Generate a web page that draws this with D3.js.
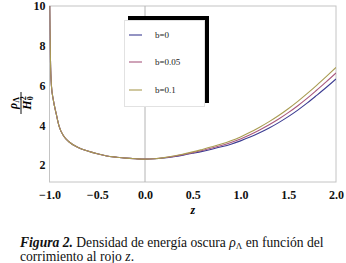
<!DOCTYPE html>
<html>
<head>
<meta charset="utf-8">
<script src="https://cdn.jsdelivr.net/npm/d3@7"></script>
<style>
  body { margin: 0; background: #fff; }
  text { font-family: "Liberation Serif", "DejaVu Serif", serif; }
</style>
</head>
<body>
<script>
// redshift samples
var zVals = [-1.0, -0.995, -0.99, -0.98, -0.96, -0.93, -0.9, -0.85, -0.8, -0.7, -0.6, -0.5, -0.4, -0.3, -0.2, -0.1,
  0.0, 0.1, 0.2, 0.3, 0.4, 0.5, 0.6, 0.7, 0.8, 0.9, 1.0, 1.1, 1.2, 1.3, 1.4, 1.5, 1.6, 1.7, 1.8, 1.9, 2.0];

// rho_Lambda / H0^2 for each b
var rhoB0 = [11.0, 8.8, 7.3, 6.0, 5.27, 4.58, 3.95, 3.44, 3.18, 2.88, 2.70, 2.56, 2.45, 2.39, 2.34, 2.31,
  2.29, 2.307, 2.352, 2.415, 2.495, 2.585, 2.68, 2.79, 2.91, 3.045, 3.21, 3.40, 3.62, 3.86, 4.13, 4.43, 4.76, 5.12, 5.51, 5.91, 6.33];
var rhoB005 = [11.0, 8.8, 7.3, 6.0, 5.27, 4.58, 3.95, 3.44, 3.18, 2.88, 2.70, 2.56, 2.45, 2.39, 2.34, 2.31,
  2.29, 2.31, 2.36, 2.43, 2.52, 2.62, 2.73, 2.85, 2.98, 3.13, 3.31, 3.52, 3.76, 4.02, 4.31, 4.63, 4.98, 5.36, 5.77, 6.19, 6.63];
var rhoB01 = [11.0, 8.8, 7.3, 6.0, 5.27, 4.58, 3.95, 3.44, 3.18, 2.88, 2.70, 2.56, 2.45, 2.39, 2.34, 2.31,
  2.29, 2.313, 2.368, 2.445, 2.545, 2.655, 2.78, 2.91, 3.05, 3.215, 3.41, 3.64, 3.90, 4.18, 4.49, 4.83, 5.20, 5.60, 6.02, 6.46, 6.91];

var seriesNames = ["b=0", "b=0.05", "b=0.1"];
var seriesColors = ["#3c3c92", "#a8587e", "#a99c52"];
var xTicks = [-1.0, -0.5, 0.0, 0.5, 1.0, 1.5, 2.0];
var yTicks = [2, 4, 6, 8, 10];

var W = 346, H = 263;
var plot = {x0: 49.5, x1: 336, y0: 6, y1: 182};

var svg = d3.select("body").append("svg")
    .attr("width", W)
    .attr("height", H);

var x = d3.scaleLinear().domain([-1, 2]).range([plot.x0, plot.x1]);
var y = d3.scaleLinear().domain([1.14, 10]).range([plot.y1, plot.y0]);

svg.append("defs").append("clipPath").attr("id", "plotclip")
  .append("rect")
    .attr("x", plot.x0).attr("y", plot.y0)
    .attr("width", plot.x1 - plot.x0).attr("height", plot.y1 - plot.y0);

// frame
svg.append("rect")
    .attr("x", plot.x0).attr("y", plot.y0)
    .attr("width", plot.x1 - plot.x0).attr("height", plot.y1 - plot.y0)
    .attr("fill", "none")
    .attr("stroke", "#c4c4c4")
    .attr("stroke-width", 1);

// vertical axis at z = 0
svg.append("line")
    .attr("x1", x(0)).attr("x2", x(0))
    .attr("y1", plot.y0).attr("y2", plot.y1)
    .attr("stroke", "#b4b4b4")
    .attr("stroke-width", 1);

// tick labels
var xAxis = d3.axisBottom(x).tickValues(xTicks).tickSize(0).tickPadding(8);
var gx = svg.append("g")
    .attr("transform", "translate(0," + plot.y1 + ")")
    .call(xAxis);
gx.select(".domain").remove();
gx.selectAll("text")
    .attr("font-family", "Liberation Serif")
    .attr("font-size", 12)
    .attr("font-weight", "bold")
    .attr("fill", "#111")
    .text(function (d) { return d3.format(".1f")(d).replace("-", "\u2212").replace("\u2212\u2212", "\u2212"); });

var yAxis = d3.axisLeft(y).tickValues(yTicks).tickSize(0).tickPadding(3);
var gy = svg.append("g")
    .attr("transform", "translate(" + (plot.x0 - 1) + ",0)")
    .call(yAxis);
gy.select(".domain").remove();
gy.selectAll("text")
    .attr("font-family", "Liberation Serif")
    .attr("font-size", 12)
    .attr("font-weight", "bold")
    .attr("fill", "#111");

// curves
var series = [rhoB0, rhoB005, rhoB01];
var line = d3.line()
    .x(function (d, i) { return x(zVals[i]); })
    .y(function (d) { return y(d); })
    .curve(d3.curveMonotoneX);

var gl = svg.append("g").attr("clip-path", "url(#plotclip)");
series.forEach(function (s, k) {
  gl.append("path")
      .attr("d", line(s))
      .attr("fill", "none")
      .attr("stroke", seriesColors[k])
      .attr("stroke-width", 1.1);
});

// legend with shadow
svg.append("rect")
    .attr("x", 128).attr("y", 16)
    .attr("width", 81).attr("height", 87)
    .attr("fill", "#000");
svg.append("rect")
    .attr("x", 124.5).attr("y", 20.5)
    .attr("width", 80).attr("height", 86)
    .attr("fill", "#fff")
    .attr("stroke", "#e2e2e2");

var legY = [35, 62, 90];
seriesNames.forEach(function (name, k) {
  svg.append("line")
      .attr("x1", 129).attr("x2", 142)
      .attr("y1", legY[k]).attr("y2", legY[k])
      .attr("stroke", seriesColors[k])
      .attr("stroke-width", 1.1);
  svg.append("text")
      .attr("x", 155).attr("y", legY[k] + 3)
      .attr("font-size", 9)
      .attr("fill", "#222")
      .text(name);
});

// axis titles
svg.append("text")
    .attr("x", (plot.x0 + plot.x1) / 2).attr("y", 214)
    .attr("text-anchor", "middle")
    .attr("font-size", 12)
    .attr("font-style", "italic")
    .attr("font-weight", "bold")
    .text("z");

var yl = svg.append("g").attr("transform", "translate(21,103) rotate(-90)");
var num = yl.append("text")
    .attr("x", 0).attr("y", -4)
    .attr("text-anchor", "middle")
    .attr("font-size", 12)
    .attr("font-style", "italic")
    .attr("font-weight", "bold");
num.append("tspan").text("\u03c1");
num.append("tspan").attr("font-size", 8).attr("dy", 2).attr("font-style", "normal").text("\u039b");
yl.append("line")
    .attr("x1", -11).attr("x2", 11)
    .attr("y1", 0).attr("y2", 0)
    .attr("stroke", "#111").attr("stroke-width", 1);
var den = yl.append("text")
    .attr("x", 0).attr("y", 10)
    .attr("text-anchor", "middle")
    .attr("font-size", 12)
    .attr("font-style", "italic")
    .attr("font-weight", "bold");
den.append("tspan").text("H");
den.append("tspan").attr("font-size", 8).attr("dy", 2).attr("font-style", "normal").text("0");
den.append("tspan").attr("font-size", 8).attr("dy", -7).attr("dx", -4).attr("font-style", "normal").text("2");

// caption
var cap = svg.append("text")
    .attr("x", 20).attr("y", 247)
    .attr("font-size", 13.6)
    .attr("fill", "#111");
cap.append("tspan").attr("font-weight", "bold").attr("font-style", "italic").text("Figura 2.");
cap.append("tspan").text(" Densidad de energía oscura ");
cap.append("tspan").attr("font-style", "italic").text("\u03c1");
cap.append("tspan").attr("font-size", 9).attr("dy", 2).text("\u039b");
cap.append("tspan").attr("dy", -2).text(" en función del");

var cap2 = svg.append("text")
    .attr("x", 20).attr("y", 261)
    .attr("font-size", 13.6)
    .attr("fill", "#111");
cap2.append("tspan").text("corrimiento al rojo ");
cap2.append("tspan").attr("font-style", "italic").text("z");
cap2.append("tspan").text(".");
</script>
</body>
</html>
